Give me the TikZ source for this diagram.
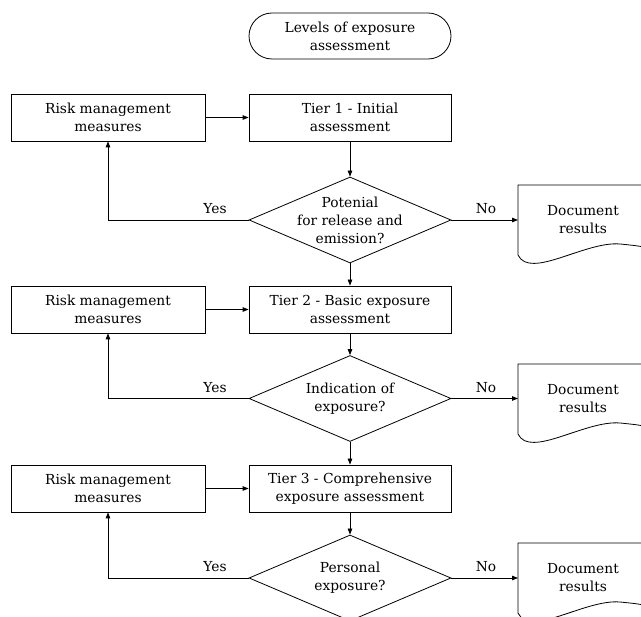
\documentclass[tikz,border=0pt]{standalone}
\usepackage{fontspec}
\setmainfont{DejaVu Serif}
\usetikzlibrary{shapes.geometric,arrows.meta}
\newcommand{\docshape}[1]{%
  \draw[docline] (660,#1) -- (518,#1) -- (518,#1+70)
    .. controls (530,#1+95) and (585,#1+56) .. (620,#1+59)
    .. controls (640,#1+61) .. (662,#1+66);}
\begin{document}
\begin{tikzpicture}[x=1pt,y=-1pt,
  every node/.style={font=\fontsize{13.8}{18}\selectfont, align=center, text=black},
  box/.style={draw, line width=0.8pt, rectangle, minimum height=47pt, inner sep=0pt},
  tierbox/.style={box, minimum width=202pt},
  riskbox/.style={box, minimum width=194pt},
  term/.style={draw, line width=0.8pt, rectangle, rounded corners=23pt, minimum width=202pt, minimum height=46pt, inner sep=0pt},
  dec/.style={draw, line width=0.8pt, diamond, minimum width=202pt, minimum height=86pt, inner sep=0pt},
  plain/.style={inner sep=0pt},
  conn/.style={line width=0.8pt, -{Triangle[length=6pt,width=4.5pt]}},
  docline/.style={line width=0.8pt}
]
\useasboundingbox (0,0) rectangle (641,617);
\clip (0,0) rectangle (641,617);

\node[term] (start) at (350,36) {Levels of exposure\\assessment};

% Row 1
\node[riskbox] (r1) at (108,117.5) {Risk management\\measures};
\node[tierbox] (t1) at (350,117.5) {Tier 1 - Initial\\assessment};
\node[dec] (d1) at (350,220) {};
\node[plain] (d1t) at (350,220) {Potenial\\for release and\\emission?};
\coordinate (c1) at (518,220);
\node[plain] (doc1) at (583,220) {Document\\results};
\docshape{185}
\node[plain] (y1) at (215,209) {Yes};
\node[plain] (n1) at (486,209) {No};

% Row 2
\node[riskbox] (r2) at (108,309.5) {Risk management\\measures};
\node[tierbox] (t2) at (350,309.5) {Tier 2 - Basic exposure\\assessment};
\node[dec] (d2) at (350,398.5) {};
\node[plain] (d2t) at (350,398.5) {Indication of\\exposure?};
\coordinate (c2) at (518,398.5);
\node[plain] (doc2) at (583,398.5) {Document\\results};
\docshape{364}
\node[plain] (y2) at (215,387.5) {Yes};
\node[plain] (n2) at (486,387.5) {No};

% Row 3
\node[riskbox] (r3) at (108,488.5) {Risk management\\measures};
\node[tierbox] (t3) at (350,488.5) {Tier 3 - Comprehensive\\exposure assessment};
\node[dec] (d3) at (350,578) {};
\node[plain] (d3t) at (350,578) {Personal\\exposure?};
\coordinate (c3) at (518,578);
\node[plain] (doc3) at (583,578) {Document\\results};
\docshape{543}
\node[plain] (y3) at (215,567) {Yes};
\node[plain] (n3) at (486,567) {No};

% Connectors
\draw[conn] (r1) -- (t1);
\draw[conn] (t1) -- (d1);
\draw[conn] (d1.west) -| (r1.south);
\draw[conn] (d1.east) -- (c1);
\draw[conn] (d1.south) -- (t2.north);

\draw[conn] (r2) -- (t2);
\draw[conn] (t2) -- (d2);
\draw[conn] (d2.west) -| (r2.south);
\draw[conn] (d2.east) -- (c2);
\draw[conn] (d2.south) -- (t3.north);

\draw[conn] (r3) -- (t3);
\draw[conn] (t3) -- (d3);
\draw[conn] (d3.west) -| (r3.south);
\draw[conn] (d3.east) -- (c3);
\end{tikzpicture}
\end{document}
